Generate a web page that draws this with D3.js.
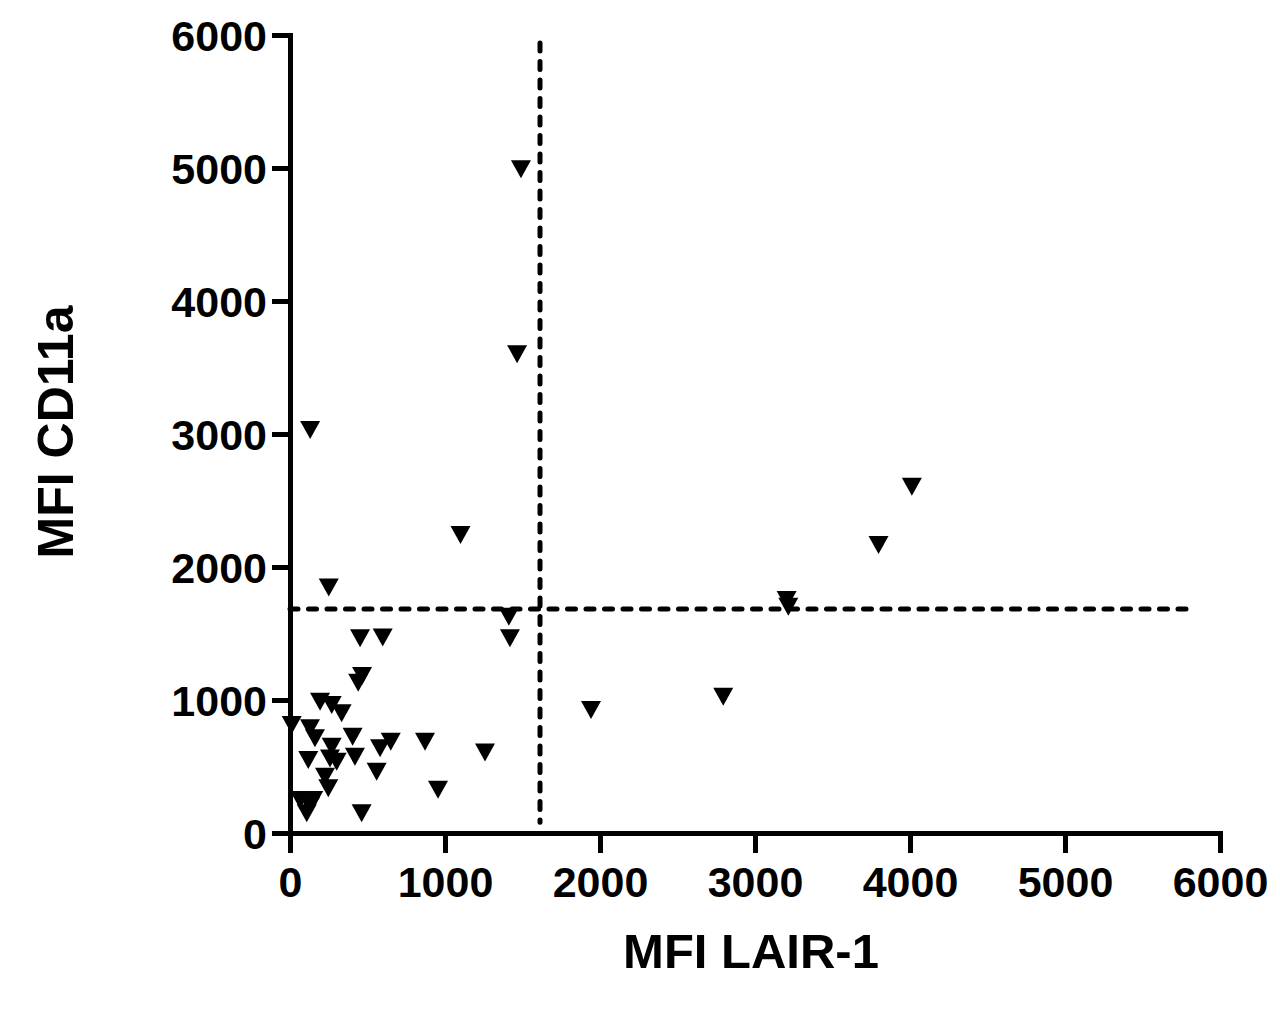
<!DOCTYPE html>
<html>
<head>
<meta charset="utf-8">
<script src="https://cdn.jsdelivr.net/npm/d3@7"></script>
<style>
  html, body { margin: 0; padding: 0; background: #fff; }
  svg { display: block; }
  text { font-family: "Liberation Sans", Arial, sans-serif; font-weight: bold; fill: #000; }
</style>
</head>
<body>
<svg id="chart" width="1280" height="1016"></svg>
<script>
// Data: MFI LAIR-1 (x) vs MFI CD11a (y)
const lair1 = [1490, 1465, 130, 1100, 250, 1412, 1419, 452, 598, 465, 440, 194, 269, 333, 11, 129, 161, 404, 269, 581, 650, 871, 1258, 118, 258, 301, 419, 559, 226, 247, 955, 65, 150, 129, 108, 462, 1942, 2795, 3204, 3215, 3797, 4012];
const cd11a = [4990, 3600, 3030, 2240, 1845, 1626, 1464, 1464, 1470, 1180, 1130, 987, 962, 900, 812, 787, 712, 724, 649, 637, 687, 687, 606, 549, 561, 536, 573, 461, 423, 336, 325, 248, 248, 203, 148, 148, 925, 1025, 1752, 1702, 2165, 2604];
const xTicks = [0, 1000, 2000, 3000, 4000, 5000, 6000];
const yTicks = [0, 1000, 2000, 3000, 4000, 5000, 6000];
const xThreshold = 1613;   // vertical dashed cut-off (LAIR-1)
const yThreshold = 1684;   // horizontal dashed cut-off (CD11a)
const xTitle = "MFI LAIR-1";
const yTitle = "MFI CD11a";

const svg = d3.select("#chart");
const margin = {left: 290, right: 60, top: 35, bottom: 183};
const W = 1280, H = 1016;

const x = d3.scaleLinear().domain([0, 6000]).range([margin.left, W - margin.right]);
const y = d3.scaleLinear().domain([0, 6000]).range([H - margin.bottom, margin.top]);

// Reference dashed lines
svg.append("line")
  .attr("x1", x(0)).attr("x2", x(5800))
  .attr("y1", y(yThreshold)).attr("y2", y(yThreshold))
  .attr("stroke", "#000").attr("stroke-width", 5)
  .attr("stroke-dasharray", "8,10.5").attr("stroke-linecap", "round");
svg.append("line")
  .attr("x1", x(xThreshold)).attr("x2", x(xThreshold))
  .attr("y1", y(5940)).attr("y2", y(80))
  .attr("stroke", "#000").attr("stroke-width", 5)
  .attr("stroke-dasharray", "8,10.5").attr("stroke-linecap", "round");

// Axes
const xAxis = d3.axisBottom(x).tickValues(xTicks).tickFormat(d3.format("d")).tickSizeInner(20).tickSizeOuter(0).tickPadding(13);
const yAxis = d3.axisLeft(y).tickValues(yTicks).tickFormat(d3.format("d")).tickSizeInner(18).tickSizeOuter(0).tickPadding(5);

const gx = svg.append("g").attr("transform", `translate(0,${y(0)})`).call(xAxis);
const gy = svg.append("g").attr("transform", `translate(${x(0)},0)`).call(yAxis);

[gx, gy].forEach(g => {
  g.select(".domain").attr("stroke", "#000").attr("stroke-width", 5);
  g.selectAll(".tick line").attr("stroke", "#000").attr("stroke-width", 5);
  g.selectAll(".tick text").style("font-size", "43px").style("font-family", "'Liberation Sans', Arial, sans-serif").style("font-weight", "bold").attr("fill", "#000");
});
gy.selectAll(".tick text").attr("dy", "0.36em");

gx.select(".domain").attr("stroke-linecap", "square");
gy.select(".domain").attr("stroke-linecap", "square");

// Points: downward triangles
const tw = 20, th = 18;
const tri = `M${-tw/2},${-th/2}L${tw/2},${-th/2}L0,${th/2}Z`;
const pts = lair1.map((v, i) => ({x: v, y: cd11a[i]}));
svg.append("g").selectAll("path").data(pts).join("path")
  .attr("d", tri)
  .attr("transform", d => `translate(${x(d.x)},${y(d.y)})`)
  .attr("fill", "#000");

// Axis titles
svg.append("text")
  .attr("x", 751).attr("y", 968)
  .attr("text-anchor", "middle")
  .style("font-size", "49px")
  .text(xTitle);
svg.append("text")
  .attr("transform", `translate(73,432) rotate(-90)`)
  .attr("text-anchor", "middle")
  .style("font-size", "50px")
  .text(yTitle);
</script>
</body>
</html>
